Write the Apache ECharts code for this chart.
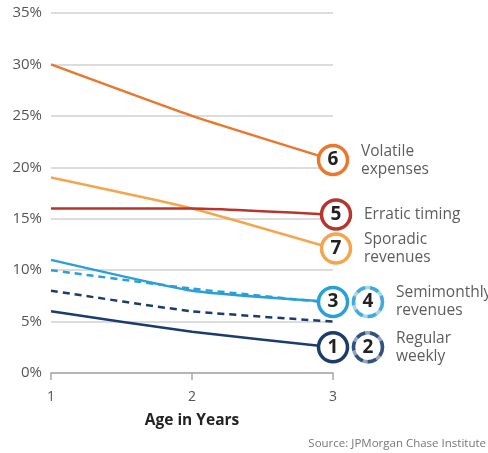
<!DOCTYPE html>
<html>
<head>
<meta charset="utf-8">
<script src="https://cdn.jsdelivr.net/npm/echarts@6/dist/echarts.min.js"></script>
<style>
  html, body { margin: 0; padding: 0; background: #fff; }
  #main { width: 488px; height: 453px; }
</style>
</head>
<body>
<div id="main"></div>
<script>
// age in years
var ages = [1, 2, 3]
var yTicks = [0, 5, 10, 15, 20, 25, 30, 35]

// share of firms exiting, %
var volatileExpenses = [30, 25, 20.7]
var erraticTiming = [16, 16, 15.4]
var sporadicRevenues = [19, 16, 12.1]
var semimonthlySolid = [11, 8, 6.9]
var semimonthlyDashed = [10, 8.2, 6.8]
var weeklySolid = [6, 4, 2.5]
var weeklyDashed = [8, 6, 5]

// numbered badges at age 3
var badgeNums = ['6', '5', '7', '3', '4', '1', '2']
var badgeVals = [20.7, 15.4, 12.1, 6.9, 6.9, 2.5, 2.5]
var badgeText = ['Volatile\nexpenses', 'Erratic timing', 'Sporadic\nrevenues', '', 'Semimonthly\nrevenues', '', 'Regular\nweekly']

var C = {
  orange: '#e9782c',
  red: '#b7352f',
  lightOrange: '#f5a64c',
  blue: '#2a9fd9',
  navy: '#1b3c6d'
}
var badgeColors = [C.orange, C.red, C.lightOrange, C.blue, C.blue, C.navy, C.navy]
var badgeTint = ['', '', '', '', '#a6d6ef', '', '#8fa5c6']
var badgeShift = [0, 3, 3, 0, 35, 0, 35]

var myChart = echarts.init(document.getElementById('main'))

function line(data, color, dashed) {
  return {
    type: 'line',
    data: ages.map(function (a, i) { return [a, data[i]] }),
    symbol: 'none',
    smooth: 0.15,
    lineStyle: { color: color, width: 2.5, type: dashed ? [7, 5] : 'solid' },
    z: 2
  }
}

function badges(dashedLayer) {
  return {
    type: 'scatter',
    z: dashedLayer ? 6 : 5,
    data: badgeNums.map(function (n, i) {
      var dashed = badgeTint[i] !== ''
      return {
        value: [3, badgeVals[i]],
        symbol: 'circle',
        symbolSize: 29,
        symbolOffset: [badgeShift[i], 0],
        itemStyle: dashedLayer ? {
          color: 'rgba(0,0,0,0)',
          borderColor: dashed ? badgeColors[i] : 'rgba(0,0,0,0)',
          borderWidth: 3.5,
          borderType: [9, 5]
        } : {
          color: '#fff',
          borderColor: dashed ? badgeTint[i] : badgeColors[i],
          borderWidth: 3.5,
          opacity: 1
        },
        label: dashedLayer ? { show: false } : {
          show: true,
          position: 'inside',
          formatter: n,
          fontFamily: 'Open Sans',
          fontWeight: 'bold',
          fontSize: 19,
          color: '#222'
        }
      }
    }),
    silent: true
  }
}

function notes() {
  return {
    type: 'scatter',
    z: 7,
    symbolSize: 0,
    data: badgeText.map(function (t, i) {
      return {
        value: [3, badgeVals[i]],
        label: {
          show: t !== '',
          position: 'right',
          distance: 0,
          offset: [badgeShift[i] + 28, 0],
          formatter: t,
          fontFamily: 'Open Sans',
          fontSize: 15.5,
          lineHeight: 18,
          color: '#333'
        }
      }
    }),
    silent: true
  }
}

var option = {
  animation: false,
  grid: { left: 51, right: 155, top: 13, bottom: 80 },
  xAxis: {
    type: 'value',
    min: 1,
    max: 3,
    interval: 1,
    name: 'Age in Years',
    nameLocation: 'middle',
    nameGap: 40,
    nameTextStyle: { fontFamily: 'Open Sans', fontWeight: 'bold', fontSize: 15.5, color: '#222' },
    axisLine: { show: true, lineStyle: { color: '#a8a8a8', width: 1.5 } },
    axisTick: { show: true, length: 7, lineStyle: { color: '#a8a8a8', width: 1.5 } },
    splitLine: { show: false },
    axisLabel: { fontFamily: 'Open Sans', fontSize: 14, color: '#555', margin: 17 }
  },
  yAxis: {
    type: 'value',
    min: yTicks[0],
    max: yTicks[yTicks.length - 1],
    interval: 5,
    axisLine: { show: false },
    axisTick: { show: false },
    splitLine: { lineStyle: { color: '#d0d0d0', width: 1.5 } },
    axisLabel: {
      fontFamily: 'Open Sans', fontSize: 15, color: '#555', margin: 9,
      formatter: '{value}%'
    }
  },
  graphic: [{
    type: 'text',
    right: 2,
    top: 438,
    style: { text: 'Source: JPMorgan Chase Institute', fontFamily: 'Open Sans', fontSize: 11.5, fill: '#777' }
  }],
  series: [
    line(volatileExpenses, C.orange),
    line(sporadicRevenues, C.lightOrange),
    line(erraticTiming, C.red),
    line(semimonthlyDashed, C.blue, true),
    line(semimonthlySolid, C.blue),
    line(weeklyDashed, C.navy, true),
    line(weeklySolid, C.navy),
    badges(false),
    badges(true),
    notes()
  ]
}

myChart.setOption(option)
</script>
</body>
</html>
